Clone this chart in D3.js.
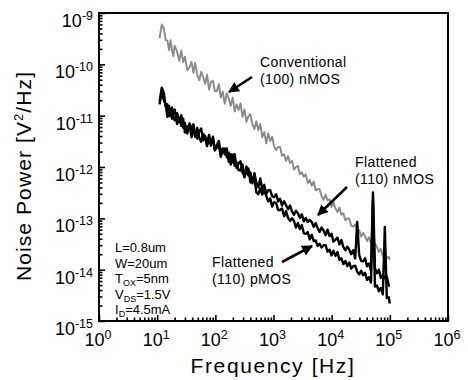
<!DOCTYPE html>
<html>
<head>
<meta charset="utf-8">
<script src="https://cdn.jsdelivr.net/npm/d3@7"></script>
<style>
  html, body { margin: 0; padding: 0; background: #fff; }
  svg { display: block; }
  text { font-family: "Liberation Sans", Arial, Helvetica, sans-serif; fill: #000; }
</style>
</head>
<body>
<svg id="chart" width="468" height="380"></svg>
<script>
// ---------------- data ----------------
const freqHz = [11,12,13,14,15,16,17,18,19,20,22,24,26,28,30,33,36,39,42,45,49,53,57,62,67,72,78,84,91,98,
  106,115,124,134,145,157,170,184,199,215,232,251,271,293,317,343,371,401,434,469,507,548,593,641,693,750,811,877,948,
  1025,1110,1200,1300,1400,1520,1640,1780,1920,2080,2250,2430,2630,2840,3070,3320,3590,3880,4200,4540,4910,5310,5740,
  6210,6720,7270,7860,8500,9190,9940,10700,11600,12600,13600,14700,15900,17200,18600,20100,21700,23500,25400,27500,
  29700,32100,34700,37500,40600,43900,47400,51300,55500,60000,64900,70100,75800,82000,88700,95900,100000];

const conventional100nMOS = [3.2e-10,6.0e-10,5.0e-10,3.0e-10,2.9e-10,1.9e-10,2.95e-10,1.9e-10,1.45e-10,2.3e-10,
  1.78e-10,1.17e-10,1.86e-10,1.1e-10,1.41e-10,7.6e-11,8.9e-11,1.12e-10,6.8e-11,1.07e-10,
  6.2e-11,4.9e-11,7.1e-11,5.6e-11,4.2e-11,6.3e-11,3.2e-11,4.5e-11,4.8e-11,3.0e-11,
  3.0e-11,4.1e-11,2.25e-11,2.95e-11,1.7e-11,2.7e-11,2.2e-11,1.55e-11,2.25e-11,1.2e-11,
  1.66e-11,1.29e-11,1.74e-11,9.5e-12,1.32e-11,7.6e-12,9.8e-12,1.07e-11,6.8e-12,5.5e-12,
  7.8e-12,5.2e-12,6.9e-12,3.8e-12,4.8e-12,2.9e-12,4.5e-12,3.2e-12,3.9e-12,2.5e-12,
  2.15e-12,2.45e-12,2.45e-12,1.66e-12,1.78e-12,1.32e-12,1.62e-12,1.2e-12,1.32e-12,8.9e-13,
  1.0e-12,1.05e-12,7.2e-13,7.9e-13,6.5e-13,7.2e-13,4.8e-13,5.6e-13,4.3e-13,5.2e-13,
  3.5e-13,3.7e-13,3.7e-13,2.7e-13,2.3e-13,2.9e-13,2.25e-13,2.35e-13,1.66e-13,2.05e-13,
  1.58e-13,1.32e-13,1.62e-13,1.17e-13,1.26e-13,9.1e-14,1.0e-13,9.8e-14,7.2e-14,6.9e-14,
  7.6e-14,5.4e-14,5.9e-14,4.4e-14,5.2e-14,4.5e-14,3.6e-14,4.3e-14,3.2e-14,2.75e-14,
  3.2e-14,2.8e-14,2.2e-14,2.55e-14,1.82e-14,2.1e-14,1.7e-14,1.78e-14,1.55e-14];

const flattened110nMOS = [1.9e-11,3.5e-11,2.8e-11,1.5e-11,1.66e-11,9.8e-12,1.29e-11,1.45e-11,9.5e-12,8.1e-12,
  1.12e-11,7.8e-12,1.02e-11,5.8e-12,7.2e-12,4.5e-12,7.1e-12,5.4e-12,6.8e-12,4.3e-12,
  3.55e-12,5.0e-12,5.6e-12,3.3e-12,4.0e-12,2.75e-12,4.2e-12,2.8e-12,3.6e-12,2.1e-12,
  2.7e-12,3.2e-12,1.82e-12,2.3e-12,1.78e-12,2.3e-12,1.26e-12,1.78e-12,1.23e-12,1.78e-12,
  9.5e-13,1.17e-12,1.29e-12,7.9e-13,6.6e-13,1.02e-12,6.8e-13,7.8e-13,4.8e-13,7.6e-13,
  5.0e-13,4.0e-13,6.0e-13,3.6e-13,4.5e-13,3.0e-13,3.55e-13,3.55e-13,2.7e-13,2.6e-13,
  2.95e-13,2.15e-13,2.4e-13,1.78e-13,2.15e-13,1.82e-13,1.51e-13,1.78e-13,1.35e-13,1.17e-13,
  1.41e-13,1.26e-13,1.02e-13,1.2e-13,8.7e-14,1.02e-13,8.5e-14,9.3e-14,8.5e-14,6.8e-14,
  8.1e-14,6.5e-14,5.4e-14,6.6e-14,5.8e-14,4.7e-14,6.0e-14,4.5e-14,5.0e-14,3.55e-14,
  3.8e-14,4.2e-14,3.1e-14,3.8e-14,2.75e-14,2.4e-14,2.8e-14,2.45e-14,2.0e-14,2.4e-14,
  1.66e-14,8.5e-14,1.95e-14,1.48e-14,1.45e-14,1.66e-14,1.17e-14,1.32e-14,9.5e-15,3.2e-13,
  1.05e-14,8.5e-15,1.0e-14,6.9e-15,7.9e-15,6.8e-15,7.4e-15,4.9e-15,4.8e-15];

const flattened110pMOS = [1.66e-11,3.0e-11,2.0e-11,1.66e-11,9.5e-12,1.55e-11,1.1e-11,8.7e-12,1.23e-11,1.32e-11,
  6.9e-12,8.7e-12,6.3e-12,8.7e-12,4.7e-12,6.0e-12,6.6e-12,3.8e-12,5.6e-12,3.9e-12,
  5.8e-12,3.7e-12,3.1e-12,4.4e-12,3.7e-12,2.55e-12,3.9e-12,2.6e-12,3.9e-12,2.15e-12,
  2.35e-12,2.7e-12,1.58e-12,2.15e-12,2.3e-12,1.55e-12,1.9e-12,1.12e-12,1.74e-12,1.05e-12,
  1.23e-12,8.7e-13,8.5e-13,1.12e-12,6.3e-13,8.3e-13,9.3e-13,5.0e-13,5.1e-13,6.3e-13,
  3.2e-13,2.95e-13,3.8e-13,2.9e-13,3.5e-13,2.75e-13,2.15e-13,2.45e-13,1.7e-13,2.05e-13,
  2.0e-13,1.45e-13,1.45e-13,1.55e-13,1.1e-13,1.38e-13,1.02e-13,8.9e-14,1.0e-13,8.9e-14,
  6.6e-14,8.1e-14,6.2e-14,7.4e-14,5.1e-14,5.0e-14,5.4e-14,3.9e-14,4.8e-14,3.6e-14,
  3.7e-14,2.9e-14,3.2e-14,2.7e-14,3.0e-14,3.0e-14,2.25e-14,2.45e-14,1.9e-14,2.35e-14,
  1.86e-14,2.2e-14,1.55e-14,1.66e-14,1.29e-14,1.48e-14,1.17e-14,1.38e-14,1.05e-14,1.17e-14,
  1.2e-14,9.1e-15,8.1e-15,9.5e-15,7.8e-15,8.7e-15,6.3e-15,7.1e-15,5.6e-15,2.3e-13,
  4.7e-15,4.9e-15,3.8e-15,4.4e-15,3.3e-15,6.8e-14,2.8e-15,2.9e-15,2.2e-15];

const xTickExponents = [0, 1, 2, 3, 4, 5, 6];
const yTickExponents = [-9, -10, -11, -12, -13, -14, -15];
const paramLines = [
  {main: "L=0.8um"},
  {main: "W=20um"},
  {main: "T", sub: "OX", rest: "=5nm"},
  {main: "V", sub: "DS", rest: "=1.5V"},
  {main: "I", sub: "D", rest: "=4.5mA"}
];

// ---------------- drawing ----------------
const svg = d3.select("#chart");
const L = 99, R = 448, T = 13, B = 321;

const x = d3.scaleLog().domain([1, 1e6]).range([L, R]);
const y = d3.scaleLog().domain([1e-15, 1e-9]).range([B, T]);

// ticks
const xMajor = xTickExponents.map(e => Math.pow(10, e));
const xMinor = [];
for (let e = 0; e < 6; e++) for (let k = 2; k <= 9; k++) xMinor.push(k * Math.pow(10, e));
const yMajor = yTickExponents.map(e => Math.pow(10, e));
const yMinor = [];
for (let e = -15; e < -9; e++) for (let k = 2; k <= 9; k++) yMinor.push(k * Math.pow(10, e));

function styleAxis(g) {
  g.select(".domain").remove();
  g.selectAll(".tick line").attr("stroke", "#000").attr("stroke-width", 1.6);
}
svg.append("g").attr("transform", `translate(0,${B})`)
  .call(d3.axisBottom(x).tickValues(xMajor).tickSize(-6).tickFormat(""))
  .call(styleAxis);
svg.append("g").attr("transform", `translate(0,${B})`)
  .call(d3.axisBottom(x).tickValues(xMinor).tickSize(-3.5).tickFormat(""))
  .call(styleAxis);
svg.append("g").attr("transform", `translate(${L},0)`)
  .call(d3.axisLeft(y).tickValues(yMajor).tickSize(-6).tickFormat(""))
  .call(styleAxis);
svg.append("g").attr("transform", `translate(${L},0)`)
  .call(d3.axisLeft(y).tickValues(yMinor).tickSize(-3.5).tickFormat(""))
  .call(styleAxis);

// tick labels
xTickExponents.forEach(e => {
  const t = svg.append("text").attr("x", x(Math.pow(10, e)) - 1).attr("y", B + 25)
    .attr("text-anchor", "middle").attr("font-size", 18);
  t.append("tspan").text("10");
  t.append("tspan").attr("font-size", 12.5).attr("dy", -7).text(String(e));
});
yTickExponents.forEach(e => {
  const t = svg.append("text").attr("x", 93).attr("y", y(Math.pow(10, e)) + 14)
    .attr("text-anchor", "end").attr("font-size", 18);
  t.append("tspan").text("10");
  t.append("tspan").attr("font-size", 12.5).attr("dy", -7).text("-" + String(-e));
});

// series
const line = d3.line().x(d => x(d[0])).y(d => y(d[1]));
function series(vals, color, w) {
  svg.append("path")
    .datum(freqHz.map((f, i) => [f, vals[i]]))
    .attr("fill", "none").attr("stroke", color).attr("stroke-width", w)
    .attr("stroke-linejoin", "round")
    .attr("d", line);
}
series(conventional100nMOS, "#8a8a8a", 1.9);
series(flattened110pMOS, "#000", 2.4);
series(flattened110nMOS, "#000", 2.4);

// frame
svg.append("rect").attr("x", L).attr("y", T).attr("width", R - L).attr("height", B - T)
  .attr("fill", "none").attr("stroke", "#000").attr("stroke-width", 2);

// axis titles
svg.append("text").attr("x", 273).attr("y", 373).attr("text-anchor", "middle")
  .attr("font-size", 21).attr("letter-spacing", 1.6).text("Frequency [Hz]");
const yl = svg.append("text").attr("transform", "translate(31,176) rotate(-90)")
  .attr("text-anchor", "middle").attr("font-size", 21).attr("letter-spacing", 1.1);
yl.append("tspan").text("Noise Power [V");
yl.append("tspan").attr("font-size", 13).attr("dy", -8).text("2");
yl.append("tspan").attr("dy", 8).text("/Hz]");

// annotations
function label(x0, y0, lines) {
  lines.forEach((s, i) => svg.append("text").attr("x", x0).attr("y", y0 + i * 17)
    .attr("font-size", 14).attr("letter-spacing", 0.4).text(s));
}
label(260, 67, ["Conventional", "(100) nMOS"]);
label(355, 167, ["Flattened", "(110) nMOS"]);
label(212, 267, ["Flattened", "(110) pMOS"]);

svg.append("defs").append("marker").attr("id", "ah")
  .attr("viewBox", "0 0 10 10").attr("refX", 9).attr("refY", 5)
  .attr("markerWidth", 4.2).attr("markerHeight", 4.2).attr("markerUnits", "strokeWidth")
  .attr("orient", "auto")
  .append("path").attr("d", "M0,0 L10,5 L0,10 Z").attr("fill", "#000");
function arrow(x1, y1, x2, y2) {
  svg.append("line").attr("x1", x1).attr("y1", y1).attr("x2", x2).attr("y2", y2)
    .attr("stroke", "#000").attr("stroke-width", 2.6).attr("marker-end", "url(#ah)");
}
arrow(252, 77, 229, 92);
arrow(347, 187, 318, 215);
arrow(282, 262, 312, 246);

// parameter block
paramLines.forEach((p, i) => {
  const t = svg.append("text").attr("x", 115).attr("y", 252 + i * 15.5).attr("font-size", 13);
  t.append("tspan").text(p.main);
  if (p.sub) {
    t.append("tspan").attr("font-size", 9).attr("dy", 3).text(p.sub);
    t.append("tspan").attr("dy", -3).text(p.rest);
  }
});
</script>
</body>
</html>
